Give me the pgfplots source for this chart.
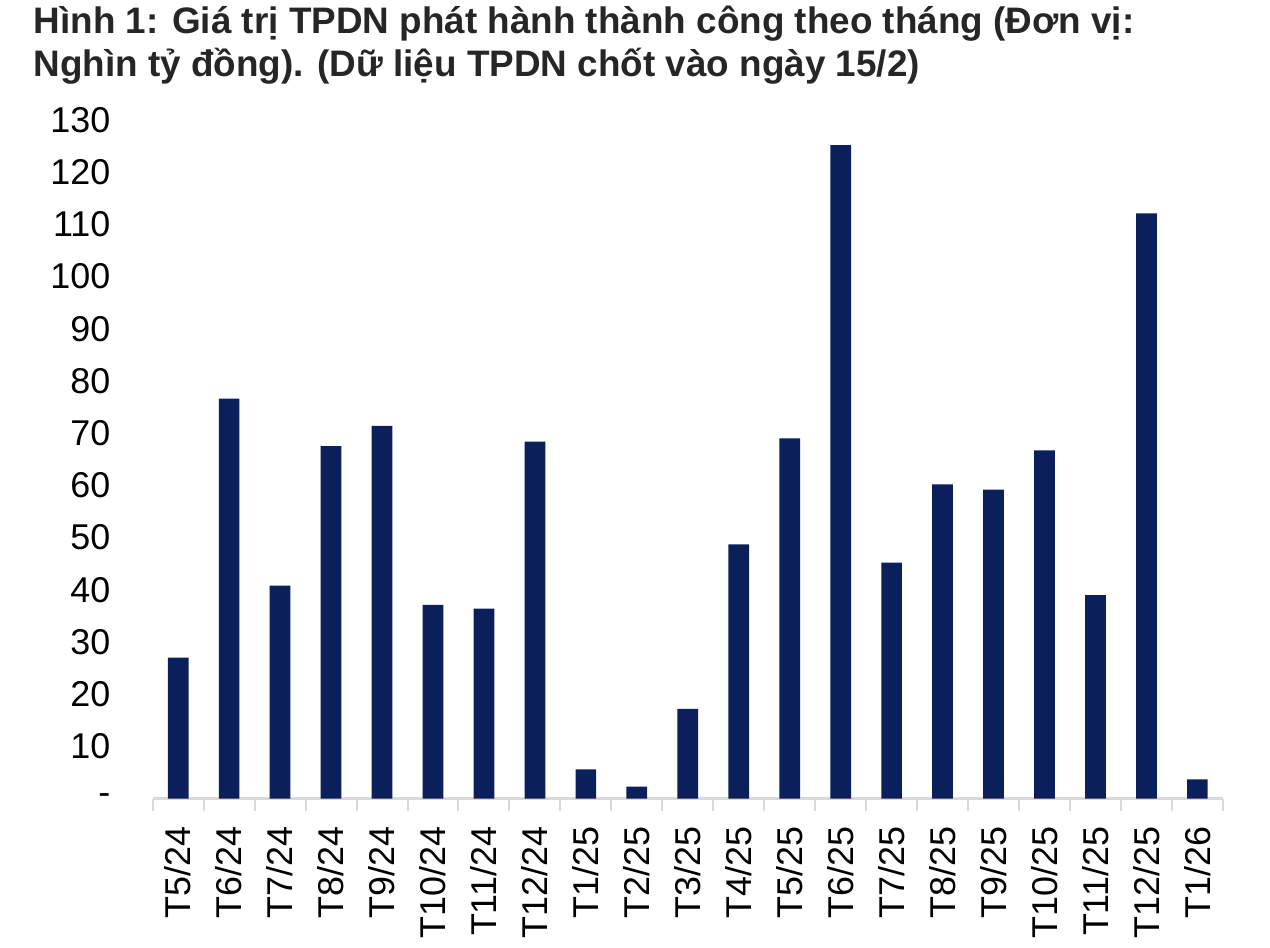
\documentclass[border=0pt]{standalone}
\usepackage{pgfplots}
\pgfplotsset{compat=1.18}
\usepackage{pgfplotstable}
\usepackage{fontspec}
\setmainfont{Liberation Sans}

\definecolor{barnavy}{RGB}{11,31,91}
\definecolor{axisgray}{RGB}{217,217,217}
\definecolor{titlegray}{RGB}{38,38,38}

% monthly issuance, thousand billion VND
\pgfplotstableread{
idx value
0 27.0
1 76.6
2 40.8
3 67.5
4 71.4
5 37.1
6 36.4
7 68.4
8 5.6
9 2.3
10 17.2
11 48.7
12 69.0
13 125.2
14 45.2
15 60.2
16 59.2
17 66.7
18 39.0
19 112.1
20 3.7
}\bonddata

\begin{document}
\begin{tikzpicture}
\begin{axis}[
    x=25.48bp, y=2.61bp,
    xmin=-0.5, xmax=20.5,
    ymin=0, ymax=130,
    axis x line*=bottom,
    axis y line*=left,
    x axis line style={draw=axisgray, line width=1.5bp, -},
    y axis line style={draw=none},
    xtick={0,...,20},
    xticklabels={T5/24,T6/24,T7/24,T8/24,T9/24,T10/24,T11/24,T12/24,T1/25,T2/25,T3/25,T4/25,T5/25,T6/25,T7/25,T8/25,T9/25,T10/25,T11/25,T12/25,T1/26},
    minor xtick={-0.5,0.5,...,20.5},
    ytick={0,10,...,130},
    yticklabels={-,10,20,30,40,50,60,70,80,90,100,110,120,130},
    major tick length=0pt,
    minor tick length=6bp,
    tick align=outside,
    minor x tick style={draw=axisgray, line width=1bp},
    ytick style={draw=none},
    xticklabel style={font=\fontsize{18}{20}\selectfont, rotate=90, anchor=east, inner sep=0pt},
    xticklabel shift=14bp,
    yticklabel style={font=\fontsize{18}{20}\selectfont, anchor=east, inner sep=0pt, xshift=-21bp},
    clip=false,
]
\addplot[ybar, bar width=10.35bp, fill=barnavy, draw=none] table[x=idx, y=value] {\bonddata};
\coordinate (O) at (axis cs:-0.5,0);
\end{axis}
\node[anchor=base west, inner sep=0pt, xshift=-59.7bp, yshift=382.6bp,
      font=\fontsize{18.5}{21}\selectfont\bfseries, text=titlegray] at (O)
      {Hình 1: Giá trị TPDN phát hành thành công theo tháng (Đơn vị:};
\node[anchor=base west, inner sep=0pt, xshift=-59.7bp, yshift=361bp,
      font=\fontsize{18.5}{21}\selectfont\bfseries, text=titlegray] at (O)
      {Nghìn tỷ đồng). (Dữ liệu TPDN chốt vào ngày 15/2)};
\pgfresetboundingbox
\path (O) ++(-76.35bp,-74.7bp) rectangle ++(635bp,474bp);
\end{tikzpicture}
\end{document}
